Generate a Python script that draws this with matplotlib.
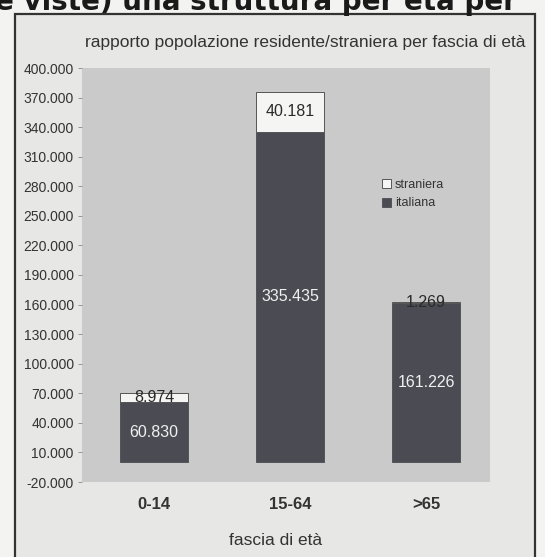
import matplotlib
matplotlib.use("Agg")
import matplotlib.pyplot as plt
from matplotlib.patches import Rectangle
from matplotlib.ticker import FuncFormatter

categories = ["0-14", "15-64", ">65"]
italiana = [60830, 335435, 161226]
straniera = [8974, 40181, 1269]
yticks = list(range(-20000, 400001, 30000))

title = "rapporto popolazione residente/straniera per fascia di età"
xlabel = "fascia di età"
page_text = "e viste) una struttura per età per"

def it_fmt(v, _pos=None):
    s = f"{abs(int(round(v))):,}".replace(",", ".")
    return ("-" if v < 0 else "") + s

plt.rcParams["font.family"] = ["Liberation Sans", "DejaVu Sans"]

page_bg = "#f3f3f1"
frame_bg = "#e7e7e5"
plot_bg = "#cacaca"
bar_dark = "#4b4b53"
bar_light = "#f5f5f3"
text_col = "#333333"

fig = plt.figure(figsize=(5.45, 5.57), dpi=100)
fig.patch.set_facecolor(page_bg)

# chart frame on the page
W, H = 545, 557
fx0, fy0, fx1 = 15, 14, 535
fig.add_artist(Rectangle((fx0 / W, -0.02), (fx1 - fx0) / W, 1 - fy0 / H + 0.02,
                         transform=fig.transFigure, facecolor=frame_bg,
                         edgecolor="#333333", linewidth=1.6, zorder=0))

# running text of the page, cut by the top edge
fig.text(-0.01, 1 - 10 / H, page_text, fontsize=20, fontweight="bold",
         family="DejaVu Sans", color="#1a1a1a", va="baseline", ha="left")

ax = fig.add_axes([82 / W, 1 - 482 / H, 408 / W, 414 / H])
ax.set_facecolor(plot_bg)
for s in ax.spines.values():
    s.set_visible(False)

x = range(len(categories))
b1 = ax.bar(x, italiana, width=0.5, color=bar_dark, edgecolor=bar_dark,
            linewidth=0.6, label="italiana", zorder=2)
b2 = ax.bar(x, straniera, width=0.5, bottom=italiana, color=bar_light,
            edgecolor="#555555", linewidth=0.7, label="straniera", zorder=2)

for i in x:
    ax.text(i, italiana[i] / 2, it_fmt(italiana[i]), ha="center", va="center",
            color="#f0f0f0", fontsize=11.5, zorder=3)
    ax.text(i, italiana[i] + straniera[i] / 2, it_fmt(straniera[i]),
            ha="center", va="center", color="#2a2a2a", fontsize=11.5, zorder=3)

ax.set_xlim(-0.53, 2.47)
ax.set_ylim(-20000, 400000)
ax.set_yticks(yticks)
ax.yaxis.set_major_formatter(FuncFormatter(it_fmt))
ax.tick_params(axis="y", length=3, width=0.6, color="#888888",
               labelsize=10, labelcolor=text_col, pad=3)
ax.set_xticks(list(x))
ax.set_xticklabels(categories, fontsize=12, fontweight="bold", color=text_col)
ax.tick_params(axis="x", length=0, pad=11)
ax.set_xlabel(xlabel, fontsize=12.5, color=text_col)
ax.xaxis.set_label_coords(0.475, -0.122)

fig.text(0.56, 1 - 43 / H, title, ha="center", va="center",
         fontsize=12.5, color=text_col)

handles = [b2, b1]
leg = ax.legend(handles, ["straniera", "italiana"], loc="upper left",
                bbox_to_anchor=(0.72, 0.748), frameon=False, fontsize=9,
                handlelength=0.75, handleheight=0.75, handletextpad=0.3,
                labelspacing=0.55, borderpad=0)
for t in leg.get_texts():
    t.set_color(text_col)

fig.savefig("out.png", dpi=100, facecolor=page_bg)
